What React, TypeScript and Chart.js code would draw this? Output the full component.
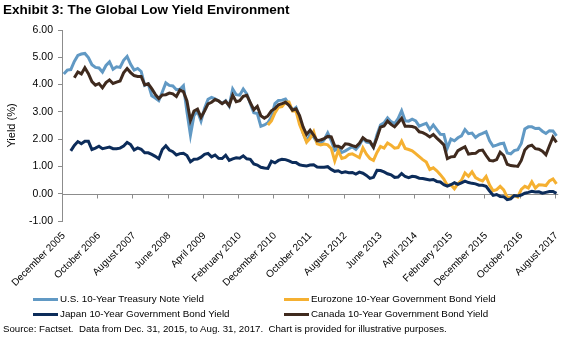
import React, { useEffect, useRef } from 'react';
import { Chart, registerables } from 'chart.js';

Chart.register(...registerables);

const MONTH_NAMES = ['January', 'February', 'March', 'April', 'May', 'June', 'July', 'August', 'September', 'October', 'November', 'December'];
const START_YEAR = 2005;
const START_MONTH_INDEX = 11; // December 2005
const MONTH_COUNT = 141; // Dec 2005 .. Aug 2017

const categories: string[] = [];
for (let i = 0; i < MONTH_COUNT; i++) {
  const mi = START_MONTH_INDEX + i;
  categories.push(MONTH_NAMES[mi % 12] + ' ' + (START_YEAR + Math.floor(mi / 12)));
}

const tickLabels = [
  'December 2005', 'October 2006', 'August 2007', 'June 2008', 'April 2009',
  'February 2010', 'December 2010', 'October 2011', 'August 2012', 'June 2013',
  'April 2014', 'February 2015', 'December 2015', 'October 2016', 'August 2017',
];

const yTicks = [-1, 0, 1, 2, 3, 4, 5, 6];

// U.S. 10-Year Treasury Note Yield (monthly, Dec 2005 - Aug 2017)
const usYield = [
  4.39,
  4.53, 4.55, 4.85, 5.07, 5.12, 5.14, 4.99, 4.73, 4.63, 4.61, 4.46, 4.70,
  4.83, 4.56, 4.65, 4.63, 4.89, 5.03, 4.74, 4.53, 4.59, 4.48, 3.97, 4.03,
  3.59, 3.51, 3.41, 3.73, 4.06, 3.97, 3.95, 3.81, 3.83, 3.96, 3.00, 2.15,
  2.87, 3.02, 2.66, 3.12, 3.46, 3.53, 3.48, 3.40, 3.31, 3.41, 3.21, 3.84,
  3.63, 3.61, 3.84, 3.66, 3.31, 2.97, 2.94, 2.47, 2.52, 2.60, 2.81, 3.30,
  3.42, 3.43, 3.47, 3.29, 3.06, 3.16, 2.80, 2.22, 1.92, 2.17, 2.08, 1.88,
  1.83, 1.98, 2.23, 1.95, 1.59, 1.67, 1.51, 1.57, 1.65, 1.72, 1.62, 1.78,
  2.02, 1.89, 1.87, 1.70, 2.16, 2.52, 2.60, 2.78, 2.64, 2.57, 2.75, 3.04,
  2.67, 2.66, 2.73, 2.67, 2.48, 2.53, 2.58, 2.35, 2.52, 2.35, 2.18, 2.17,
  1.68, 2.00, 1.94, 2.05, 2.12, 2.35, 2.20, 2.22, 2.06, 2.16, 2.21, 2.27,
  1.94, 1.74, 1.78, 1.83, 1.85, 1.49, 1.46, 1.58, 1.61, 1.84, 2.37, 2.45,
  2.45, 2.39, 2.40, 2.29, 2.21, 2.31, 2.30, 2.12,
];

// Eurozone 10-Year Government Bond Yield (starts Oct 2010)
const euroYield = [
  null,
  null, null, null, null, null, null, null, null, null, null, null, null,
  null, null, null, null, null, null, null, null, null, null, null, null,
  null, null, null, null, null, null, null, null, null, null, null, null,
  null, null, null, null, null, null, null, null, null, null, null, null,
  null, null, null, null, null, null, null, null, null, 2.52, 2.67, 2.96,
  3.17, 3.19, 3.35, 3.36, 3.03, 3.03, 2.54, 2.22, 1.89, 2.03, 2.27, 1.83,
  1.79, 1.82, 1.79, 1.66, 1.20, 1.58, 1.29, 1.33, 1.44, 1.46, 1.39, 1.32,
  1.68, 1.45, 1.29, 1.22, 1.51, 1.73, 1.67, 1.86, 1.78, 1.67, 1.69, 1.93,
  1.66, 1.62, 1.57, 1.47, 1.36, 1.25, 1.16, 0.89, 0.95, 0.84, 0.70, 0.54,
  0.30, 0.33, 0.18, 0.37, 0.49, 0.76, 0.64, 0.80, 0.59, 0.52, 0.47, 0.63,
  0.32, 0.11, 0.15, 0.27, 0.14, -0.13, -0.12, -0.07, -0.12, 0.16, 0.27, 0.21,
  0.44, 0.21, 0.33, 0.32, 0.30, 0.47, 0.54, 0.36,
];

// Japan 10-Year Government Bond Yield (starts Feb 2006)
const japanYield = [
  null,
  null, 1.57, 1.77, 1.91, 1.83, 1.92, 1.92, 1.62, 1.67, 1.74, 1.65, 1.68,
  1.71, 1.65, 1.65, 1.67, 1.75, 1.88, 1.80, 1.60, 1.68, 1.63, 1.50, 1.50,
  1.44, 1.37, 1.28, 1.62, 1.76, 1.60, 1.54, 1.42, 1.47, 1.48, 1.40, 1.17,
  1.26, 1.27, 1.34, 1.44, 1.48, 1.35, 1.42, 1.30, 1.29, 1.41, 1.22, 1.28,
  1.32, 1.30, 1.39, 1.28, 1.26, 1.09, 1.05, 0.97, 0.94, 0.93, 1.19, 1.13,
  1.22, 1.26, 1.25, 1.20, 1.14, 1.14, 1.06, 1.03, 1.02, 1.05, 1.06, 0.98,
  0.97, 0.97, 0.99, 0.89, 0.82, 0.84, 0.77, 0.80, 0.77, 0.78, 0.72, 0.79,
  0.75, 0.67, 0.56, 0.60, 0.86, 0.85, 0.80, 0.73, 0.69, 0.60, 0.61, 0.74,
  0.63, 0.59, 0.64, 0.62, 0.57, 0.56, 0.53, 0.50, 0.52, 0.45, 0.43, 0.33,
  0.28, 0.33, 0.40, 0.34, 0.40, 0.46, 0.41, 0.38, 0.36, 0.31, 0.31, 0.27,
  0.10, -0.06, -0.03, -0.10, -0.11, -0.22, -0.19, -0.07, -0.08, -0.05, 0.02, 0.05,
  0.09, 0.06, 0.07, 0.02, 0.05, 0.08, 0.08, 0.01,
];

// Canada 10-Year Government Bond Yield (starts Mar 2006)
const canadaYield = [
  null,
  null, null, 4.25, 4.46, 4.39, 4.62, 4.40, 4.11, 3.98, 4.04, 3.88, 4.07,
  4.17, 4.04, 4.09, 4.13, 4.43, 4.59, 4.44, 4.33, 4.30, 4.30, 3.99, 4.03,
  3.85, 3.64, 3.49, 3.62, 3.63, 3.69, 3.66, 3.56, 3.80, 3.74, 3.40, 2.68,
  3.03, 3.10, 2.80, 3.03, 3.29, 3.35, 3.45, 3.40, 3.30, 3.39, 3.23, 3.61,
  3.37, 3.41, 3.57, 3.61, 3.34, 3.08, 3.20, 2.86, 2.77, 2.85, 3.04, 3.12,
  3.26, 3.30, 3.35, 3.24, 3.06, 3.11, 2.86, 2.45, 2.17, 2.33, 2.15, 1.94,
  1.97, 2.02, 2.10, 2.08, 1.75, 1.74, 1.67, 1.83, 1.81, 1.76, 1.72, 1.85,
  2.05, 1.95, 1.92, 1.70, 2.05, 2.44, 2.48, 2.66, 2.54, 2.45, 2.60, 2.76,
  2.47, 2.47, 2.46, 2.42, 2.27, 2.24, 2.17, 2.08, 2.17, 2.04, 1.92, 1.79,
  1.29, 1.35, 1.36, 1.58, 1.65, 1.72, 1.45, 1.47, 1.48, 1.58, 1.60, 1.40,
  1.22, 1.20, 1.25, 1.52, 1.40, 1.08, 1.03, 1.02, 1.00, 1.22, 1.60, 1.74,
  1.78, 1.65, 1.63, 1.56, 1.43, 1.76, 2.07, 1.88,
];

const seriesNames = [
  'U.S. 10-Year Treasury Note Yield',
  'Eurozone 10-Year Government Bond Yield',
  'Japan 10-Year Government Bond Yield',
  'Canada 10-Year Government Bond Yield',
];
const seriesColors = ['#6199C4', '#F5B031', '#0C2C5A', '#3F2A1E'];
const seriesData = [usYield, euroYield, japanYield, canadaYield];

const FONT = '"Liberation Sans", Arial, Helvetica, sans-serif';
const AXIS_COLOR = '#8C8C8C';

const zeroAxisPlugin = {
  id: 'zeroAxis',
  beforeDatasetsDraw(chart: any) {
    const { ctx, chartArea, scales } = chart;
    const y0 = Math.round(scales.y.getPixelForValue(0)) + 0.5;
    const n = chart.data.labels.length;
    const w = (chartArea.right - chartArea.left) / n;
    ctx.save();
    ctx.strokeStyle = AXIS_COLOR;
    ctx.lineWidth = 1;
    ctx.beginPath();
    ctx.moveTo(chartArea.left, y0);
    ctx.lineTo(chartArea.right, y0);
    for (let i = 10; i < n; i += 10) {
      const x = Math.round(chartArea.left + i * w) + 0.5;
      ctx.moveTo(x, y0);
      ctx.lineTo(x, y0 + 4);
    }
    ctx.stroke();
    ctx.restore();
  },
};

function ChartCanvas() {
  const ref = useRef<HTMLCanvasElement>(null);
  useEffect(() => {
    if (!ref.current) return;
    const chart = new Chart(ref.current, {
      type: 'line',
      data: {
        labels: categories,
        datasets: seriesNames.map((name, i) => ({
          label: name,
          data: seriesData[i],
          borderColor: seriesColors[i],
          backgroundColor: seriesColors[i],
          borderWidth: 3,
          pointRadius: 0,
          tension: 0,
          spanGaps: false,
          order: 4 - i,
        })),
      },
      options: {
        animation: false,
        responsive: false,
        maintainAspectRatio: false,
        layout: { padding: { top: 30, right: 10, left: 0, bottom: 0 } },
        plugins: {
          legend: { display: false },
          tooltip: { enabled: false },
          title: { display: false },
        },
        scales: {
          x: {
            type: 'category',
            offset: true,
            grid: { display: false, drawTicks: false },
            border: { display: false },
            ticks: {
              autoSkip: false,
              maxRotation: 45,
              minRotation: 45,
              padding: 9,
              color: '#000',
              font: { family: FONT, size: 10 },
              callback: (_v: any, idx: number) => (tickLabels.includes(categories[idx]) ? categories[idx] : null),
            },
            afterFit: (scale: any) => { scale.height = 79; },
          },
          y: {
            min: -1,
            max: 6,
            afterBuildTicks: (scale: any) => { scale.ticks = yTicks.map((v) => ({ value: v })); },
            grid: { display: true, drawOnChartArea: false, drawTicks: true, tickLength: 4, color: AXIS_COLOR },
            border: { display: true, color: AXIS_COLOR },
            ticks: {
              padding: 5,
              color: '#000',
              font: { family: FONT, size: 10.5 },
              callback: (v: any) => Number(v).toFixed(2),
            },
            title: {
              display: true,
              text: 'Yield (%)',
              color: '#000',
              font: { family: FONT, size: 11 },
              padding: { top: 5, bottom: 0 },
            },
            afterFit: (scale: any) => { scale.width = 62; },
          },
        },
      },
      plugins: [zeroAxisPlugin],
    });
    return () => chart.destroy();
  }, []);
  return <canvas ref={ref} width={574} height={300} style={{ position: 'absolute', left: 0, top: 0, width: 574, height: 300 }} />;
}

export default function App() {
  useEffect(() => {
    document.body.style.margin = '0';
  }, []);
  const legendPos = [
    { left: 33, top: 299 },
    { left: 284, top: 299 },
    { left: 33, top: 314 },
    { left: 284, top: 314 },
  ];
  return (
    <div style={{ position: 'relative', width: 574, height: 341, background: '#fff', overflow: 'hidden', fontFamily: FONT }}>
      <ChartCanvas />
      <div style={{ position: 'absolute', left: 3, top: 1, fontSize: 13.5, fontWeight: 'bold', color: '#000', whiteSpace: 'nowrap', lineHeight: '18px' }}>
        Exhibit 3: The Global Low Yield Environment
      </div>
      {seriesNames.map((name, i) => (
        <div key={name} style={{ position: 'absolute', left: legendPos[i].left, top: legendPos[i].top - 7, height: 14, display: 'flex', alignItems: 'center', whiteSpace: 'nowrap' }}>
          <span style={{ display: 'inline-block', width: 25, height: 3, background: seriesColors[i], marginRight: 2 }} />
          <span style={{ fontSize: 9.8, color: '#000', lineHeight: '14px' }}>{name}</span>
        </div>
      ))}
      <div style={{ position: 'absolute', left: 3, top: 322, fontSize: 9.7, color: '#000', whiteSpace: 'pre', lineHeight: '14px' }}>
        {'Source: Factset.  Data from Dec. 31, 2015, to Aug. 31, 2017.  Chart is provided for illustrative purposes.'}
      </div>
    </div>
  );
}
